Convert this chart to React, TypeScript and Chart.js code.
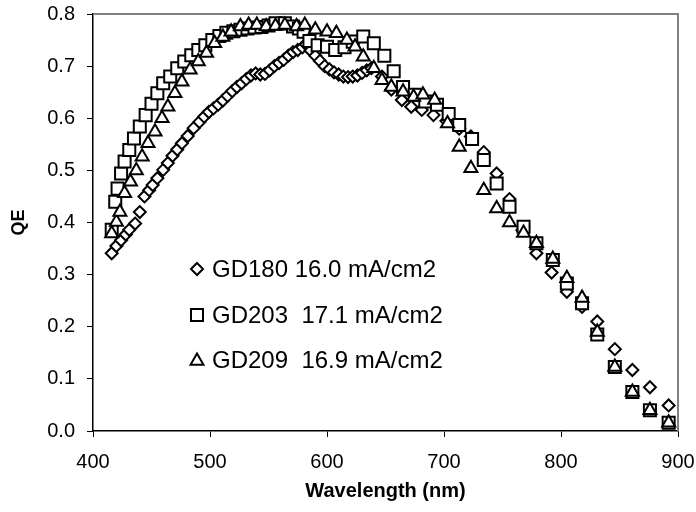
import React, { useEffect, useRef } from "react";
import { Chart, registerables } from "chart.js";

Chart.register(...registerables);

const gd180Wl = [416, 420, 424, 428, 431, 436, 440, 444, 448, 451, 455, 460, 464, 468, 472, 476, 481, 486, 491, 495, 499, 503, 507, 511, 515, 519, 523, 527, 531, 535, 539, 543, 547, 551, 555, 559, 563, 567, 571, 575, 579, 582, 586, 590, 594, 598, 602, 606, 610, 614, 618, 622, 626, 630, 634, 638, 647, 655, 664, 672, 681, 691, 702, 713, 723, 734, 745, 756, 767, 779, 792, 805, 818, 831, 846, 861, 876, 892];
const gd180Qe = [0.341, 0.355, 0.366, 0.377, 0.386, 0.398, 0.42, 0.45, 0.462, 0.472, 0.485, 0.501, 0.514, 0.528, 0.54, 0.552, 0.566, 0.581, 0.593, 0.603, 0.612, 0.619, 0.626, 0.634, 0.643, 0.652, 0.66, 0.667, 0.675, 0.682, 0.686, 0.684, 0.685, 0.692, 0.7, 0.706, 0.712, 0.72, 0.727, 0.731, 0.736, 0.742, 0.73, 0.72, 0.71, 0.7, 0.694, 0.688, 0.684, 0.68, 0.679, 0.68, 0.682, 0.687, 0.692, 0.696, 0.68, 0.655, 0.635, 0.622, 0.616, 0.606, 0.595, 0.58, 0.565, 0.535, 0.494, 0.445, 0.385, 0.341, 0.304, 0.267, 0.238, 0.21, 0.157, 0.117, 0.084, 0.049];

const gd203Wl = [416, 419, 421, 424, 427, 431, 435, 440, 445, 450, 455, 460, 466, 472, 478, 484, 490, 496, 502, 508, 514, 520, 526, 532, 538, 544, 550, 556, 564, 571, 576, 580, 585, 592, 600, 607, 615, 622, 631, 640, 649, 657, 665, 675, 684, 694, 704, 713, 724, 734, 745, 756, 768, 779, 793, 805, 818, 831, 846, 861, 876, 892];
const gd203Qe = [0.386, 0.44, 0.465, 0.494, 0.517, 0.539, 0.561, 0.584, 0.606, 0.628, 0.648, 0.667, 0.68, 0.696, 0.709, 0.721, 0.731, 0.74, 0.75, 0.758, 0.764, 0.767, 0.77, 0.772, 0.774, 0.775, 0.778, 0.782, 0.782, 0.776, 0.772, 0.766, 0.748, 0.74, 0.737, 0.731, 0.736, 0.747, 0.757, 0.744, 0.72, 0.69, 0.66, 0.645, 0.632, 0.626, 0.608, 0.587, 0.56, 0.52, 0.475, 0.43, 0.392, 0.36, 0.328, 0.283, 0.245, 0.185, 0.123, 0.075, 0.04, 0.016];

const gd209Wl = [416, 420, 423, 427, 432, 437, 442, 447, 453, 459, 464, 470, 476, 483, 490, 497, 504, 511, 518, 526, 533, 540, 548, 556, 564, 574, 581, 590, 600, 608, 617, 624, 631, 640, 647, 655, 665, 674, 682, 692, 703, 713, 723, 734, 745, 756, 768, 779, 793, 805, 818, 831, 846, 861, 876, 892];
const gd209Qe = [0.379, 0.401, 0.42, 0.456, 0.478, 0.5, 0.526, 0.552, 0.574, 0.6, 0.622, 0.648, 0.67, 0.693, 0.709, 0.725, 0.744, 0.756, 0.766, 0.776, 0.779, 0.779, 0.776, 0.777, 0.779, 0.776, 0.779, 0.77, 0.766, 0.763, 0.75, 0.737, 0.718, 0.696, 0.673, 0.66, 0.651, 0.641, 0.645, 0.635, 0.59, 0.545, 0.504, 0.462, 0.427, 0.4, 0.38, 0.36, 0.33, 0.293, 0.255, 0.19, 0.123, 0.075, 0.04, 0.016];

const seriesLabels = ["GD180 16.0 mA/cm2", "GD203  17.1 mA/cm2", "GD209  16.9 mA/cm2"];
const xTitle = "Wavelength (nm)";
const yTitle = "QE";

const FONT = "'Liberation Sans', Arial, sans-serif";

const toPoints = (xs: number[], ys: number[]) => xs.map((x, i) => ({ x, y: ys[i] }));

function drawMarker(ctx: CanvasRenderingContext2D, kind: string, x: number, y: number) {
  ctx.beginPath();
  if (kind === "diamond") {
    const r = 6;
    ctx.moveTo(x, y - r);
    ctx.lineTo(x + r, y);
    ctx.lineTo(x, y + r);
    ctx.lineTo(x - r, y);
    ctx.closePath();
  } else if (kind === "square") {
    const h = 6;
    ctx.rect(x - h, y - h, 2 * h, 2 * h);
  } else {
    const r = 7.5;
    const s = r * Math.sqrt(3) / 2;
    ctx.moveTo(x, y - r);
    ctx.lineTo(x + s, y + r / 2);
    ctx.lineTo(x - s, y + r / 2);
    ctx.closePath();
  }
  ctx.fillStyle = "#fff";
  ctx.fill();
  ctx.strokeStyle = "#000";
  ctx.lineWidth = 2;
  ctx.stroke();
}

const frameAndLegend = {
  id: "frameAndLegend",
  afterDatasetsDraw(chart: any) {
    const { ctx, chartArea } = chart;
    ctx.save();
    ctx.strokeStyle = "#808080";
    ctx.lineWidth = 2;
    ctx.beginPath();
    ctx.moveTo(chartArea.left, chartArea.top);
    ctx.lineTo(chartArea.right, chartArea.top);
    ctx.lineTo(chartArea.right, chartArea.bottom);
    ctx.stroke();
    const kinds = ["diamond", "square", "triangle"];
    const lx = 197;
    const ly = [269, 315, 360];
    for (let i = 0; i < 3; i++) {
      drawMarker(ctx, kinds[i], lx, ly[i] + (i === 2 ? 1 : 0));
      ctx.font = `24px ${FONT}`;
      ctx.fillStyle = "#000";
      ctx.textBaseline = "middle";
      ctx.textAlign = "left";
      ctx.fillText(seriesLabels[i], 212, ly[i] + 1);
    }
    ctx.restore();
  },
};

export default function App() {
  const ref = useRef<HTMLCanvasElement | null>(null);
  useEffect(() => {
    document.body.style.margin = "0";
    const canvas = ref.current!;
    const common = {
      showLine: false,
      borderColor: "#000",
      backgroundColor: "#fff",
      borderWidth: 2,
    };
    const chart = new Chart(canvas, {
      type: "scatter",
      data: {
        datasets: [
          { ...common, label: seriesLabels[0], data: toPoints(gd180Wl, gd180Qe), pointStyle: "rectRot", pointRadius: 6, order: 3 },
          { ...common, label: seriesLabels[1], data: toPoints(gd203Wl, gd203Qe), pointStyle: "rect", pointRadius: 8.5, order: 2 },
          { ...common, label: seriesLabels[2], data: toPoints(gd209Wl, gd209Qe), pointStyle: "triangle", pointRadius: 7.5, order: 1 },
        ],
      },
      options: {
        responsive: false,
        animation: false,
        layout: { padding: { left: 0, right: 18, top: 14, bottom: 0 } },
        plugins: { legend: { display: false }, tooltip: { enabled: false } },
        scales: {
          x: {
            type: "linear",
            min: 400,
            max: 900,
            border: { color: "#000", width: 1.5 },
            grid: { drawOnChartArea: false, drawTicks: true, tickLength: 6, color: "#000", lineWidth: 1 },
            ticks: { stepSize: 100, color: "#000", font: { family: FONT, size: 20 }, padding: 13, maxRotation: 0 },
            title: { display: true, text: xTitle, color: "#000", font: { family: FONT, size: 20, weight: "bold" }, padding: { top: 4, bottom: 9 } },
            afterFit: (s: any) => { s.height = 512 - 431; s.paddingLeft = 0; s.paddingRight = 0; },
          },
          y: {
            type: "linear",
            min: 0,
            max: 0.8,
            border: { color: "#000", width: 1.5 },
            grid: { drawOnChartArea: false, drawTicks: true, tickLength: 6, color: "#000", lineWidth: 1 },
            ticks: { stepSize: 0.1, color: "#000", font: { family: FONT, size: 20 }, padding: 12, callback: (v: any) => Number(v).toFixed(1) },
            title: { display: true, text: yTitle, color: "#000", font: { family: FONT, size: 18, weight: "bold" }, padding: { top: 8, bottom: 4 } },
            afterFit: (s: any) => { s.width = 93; s.paddingTop = 0; s.paddingBottom = 0; },
          },
        },
      },
      plugins: [frameAndLegend],
    } as any);
    return () => chart.destroy();
  }, []);
  return (
    <div style={{ position: "absolute", left: 0, top: 0, width: 696, height: 512 }}>
      <canvas ref={ref} width={696} height={512} style={{ width: 696, height: 512, display: "block" }} />
    </div>
  );
}
